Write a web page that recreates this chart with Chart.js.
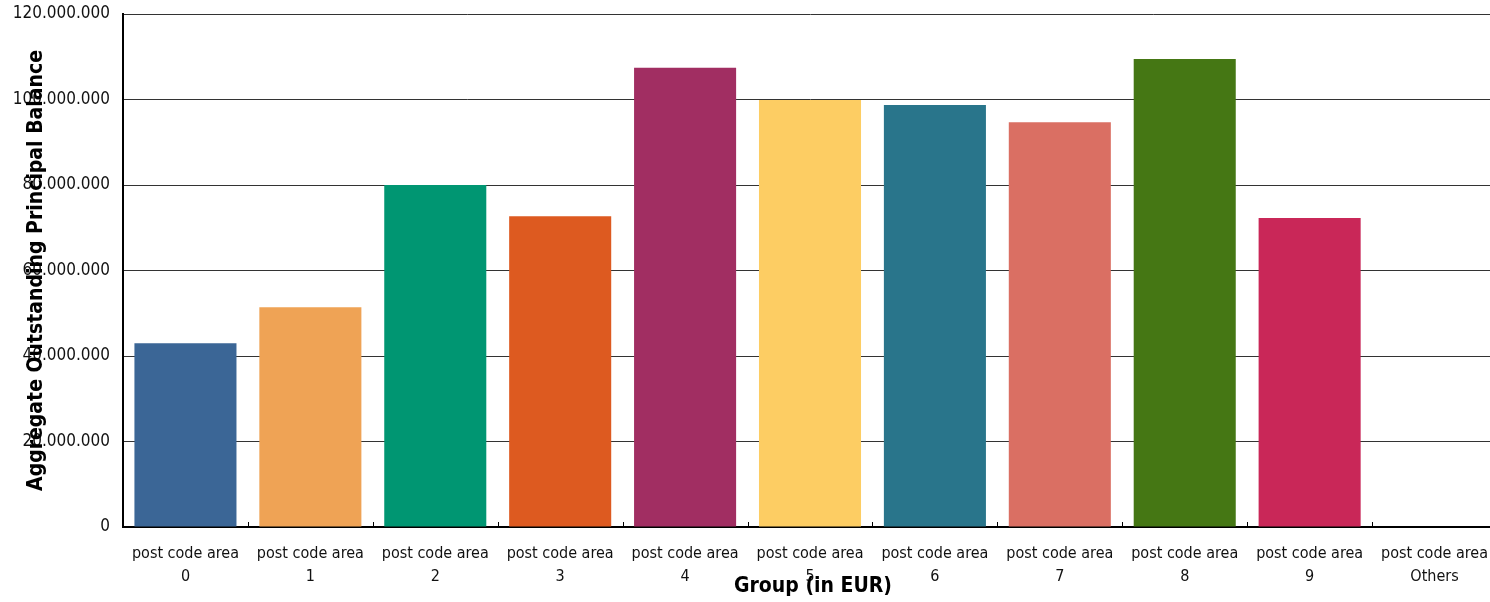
<!DOCTYPE html>
<html>
<head>
<meta charset="utf-8">
<script src="https://cdn.jsdelivr.net/npm/chart.js@4.4.0/dist/chart.umd.min.js"></script>
<style>
  html, body { margin: 0; padding: 0; background: #fff; overflow: hidden; }
  /* the plot in the original runs a few pixels past the right edge */
  #wrap { width: 1497px; height: 602px; position: relative; }
</style>
</head>
<body>
<div id="wrap"><canvas id="chart"></canvas></div>
<script>
// data
const categories = ['0', '1', '2', '3', '4', '5', '6', '7', '8', '9', 'Others'];
const balances = [43000000, 51400000, 80000000, 72700000, 107400000, 99900000, 98700000, 94700000, 109500000, 72300000, 0];
const barColors = ['#3b6696', '#efa355', '#009672', '#dd5a20', '#a12e62', '#fdcd63', '#29758b', '#da6f63', '#457714', '#c92758', '#8c8c8c'];
const yTitle = 'Aggregate Outstanding Principal Balance';
const xTitle = 'Group (in EUR)';

const FONT = "'Liberation Sans Narrow', 'DejaVu Sans Condensed', Roboto, sans-serif";

const fmt = v => Math.round(v).toString().replace(/\B(?=(\d{3})+(?!\d))/g, '.');

// axis titles overlap the tick labels in the original, so draw them by hand
const titlesPlugin = {
    id: 'titles',
    afterDraw(chart) {
        const ctx = chart.ctx;
        const area = chart.chartArea;
        const x = chart.scales.x;
        ctx.save();
        // small inward ticks between categories
        ctx.strokeStyle = '#000';
        ctx.lineWidth = 1;
        for (let i = 1; i < categories.length; i++) {
            const px = Math.round((x.getPixelForValue(i - 1) + x.getPixelForValue(i)) / 2) + 0.5;
            ctx.beginPath();
            ctx.moveTo(px, area.bottom);
            ctx.lineTo(px, area.bottom - 5);
            ctx.stroke();
        }
        ctx.fillStyle = '#000';
        ctx.font = 'bold 21px ' + FONT;
        ctx.textAlign = 'center';
        ctx.textBaseline = 'middle';
        ctx.fillText(xTitle, 813, 587);
        ctx.translate(37, (area.top + area.bottom) / 2);
        ctx.rotate(-Math.PI / 2);
        ctx.fillText(yTitle, 0, 0);
        ctx.restore();
    }
};

new Chart(document.getElementById('chart'), {
    type: 'bar',
    data: {
        labels: categories.map(c => ['post code area', c]),
        datasets: [{
            data: balances,
            backgroundColor: barColors,
            barPercentage: 0.817,
            categoryPercentage: 1.0
        }]
    },
    options: {
        responsive: true,
        maintainAspectRatio: false,
        animation: false,
        layout: { padding: { top: 14, right: 0, left: 0, bottom: 0 } },
        plugins: {
            legend: { display: false },
            tooltip: { enabled: false }
        },
        scales: {
            x: {
                grid: { display: false, drawTicks: false },
                border: { color: '#000', width: 2 },
                ticks: {
                    color: '#111',
                    padding: 16,
                    maxRotation: 0,
                    autoSkip: false,
                    font: { family: FONT, size: 16, lineHeight: 1.4 }
                },
                afterFit(scale) {
                    scale.height = 75;
                    scale.paddingLeft = 0;
                    scale.paddingRight = 0;
                }
            },
            y: {
                min: 0,
                max: 120000000,
                grid: { color: '#333', lineWidth: 1, drawTicks: false },
                border: { color: '#000', width: 2 },
                ticks: {
                    stepSize: 20000000,
                    color: '#111',
                    padding: 13,
                    font: { family: FONT, size: 17 },
                    callback: v => fmt(v)
                },
                afterFit(scale) {
                    scale.width = 123;
                    scale.paddingTop = 0;
                    scale.paddingBottom = 0;
                }
            }
        }
    },
    plugins: [titlesPlugin]
});
</script>
</body>
</html>
